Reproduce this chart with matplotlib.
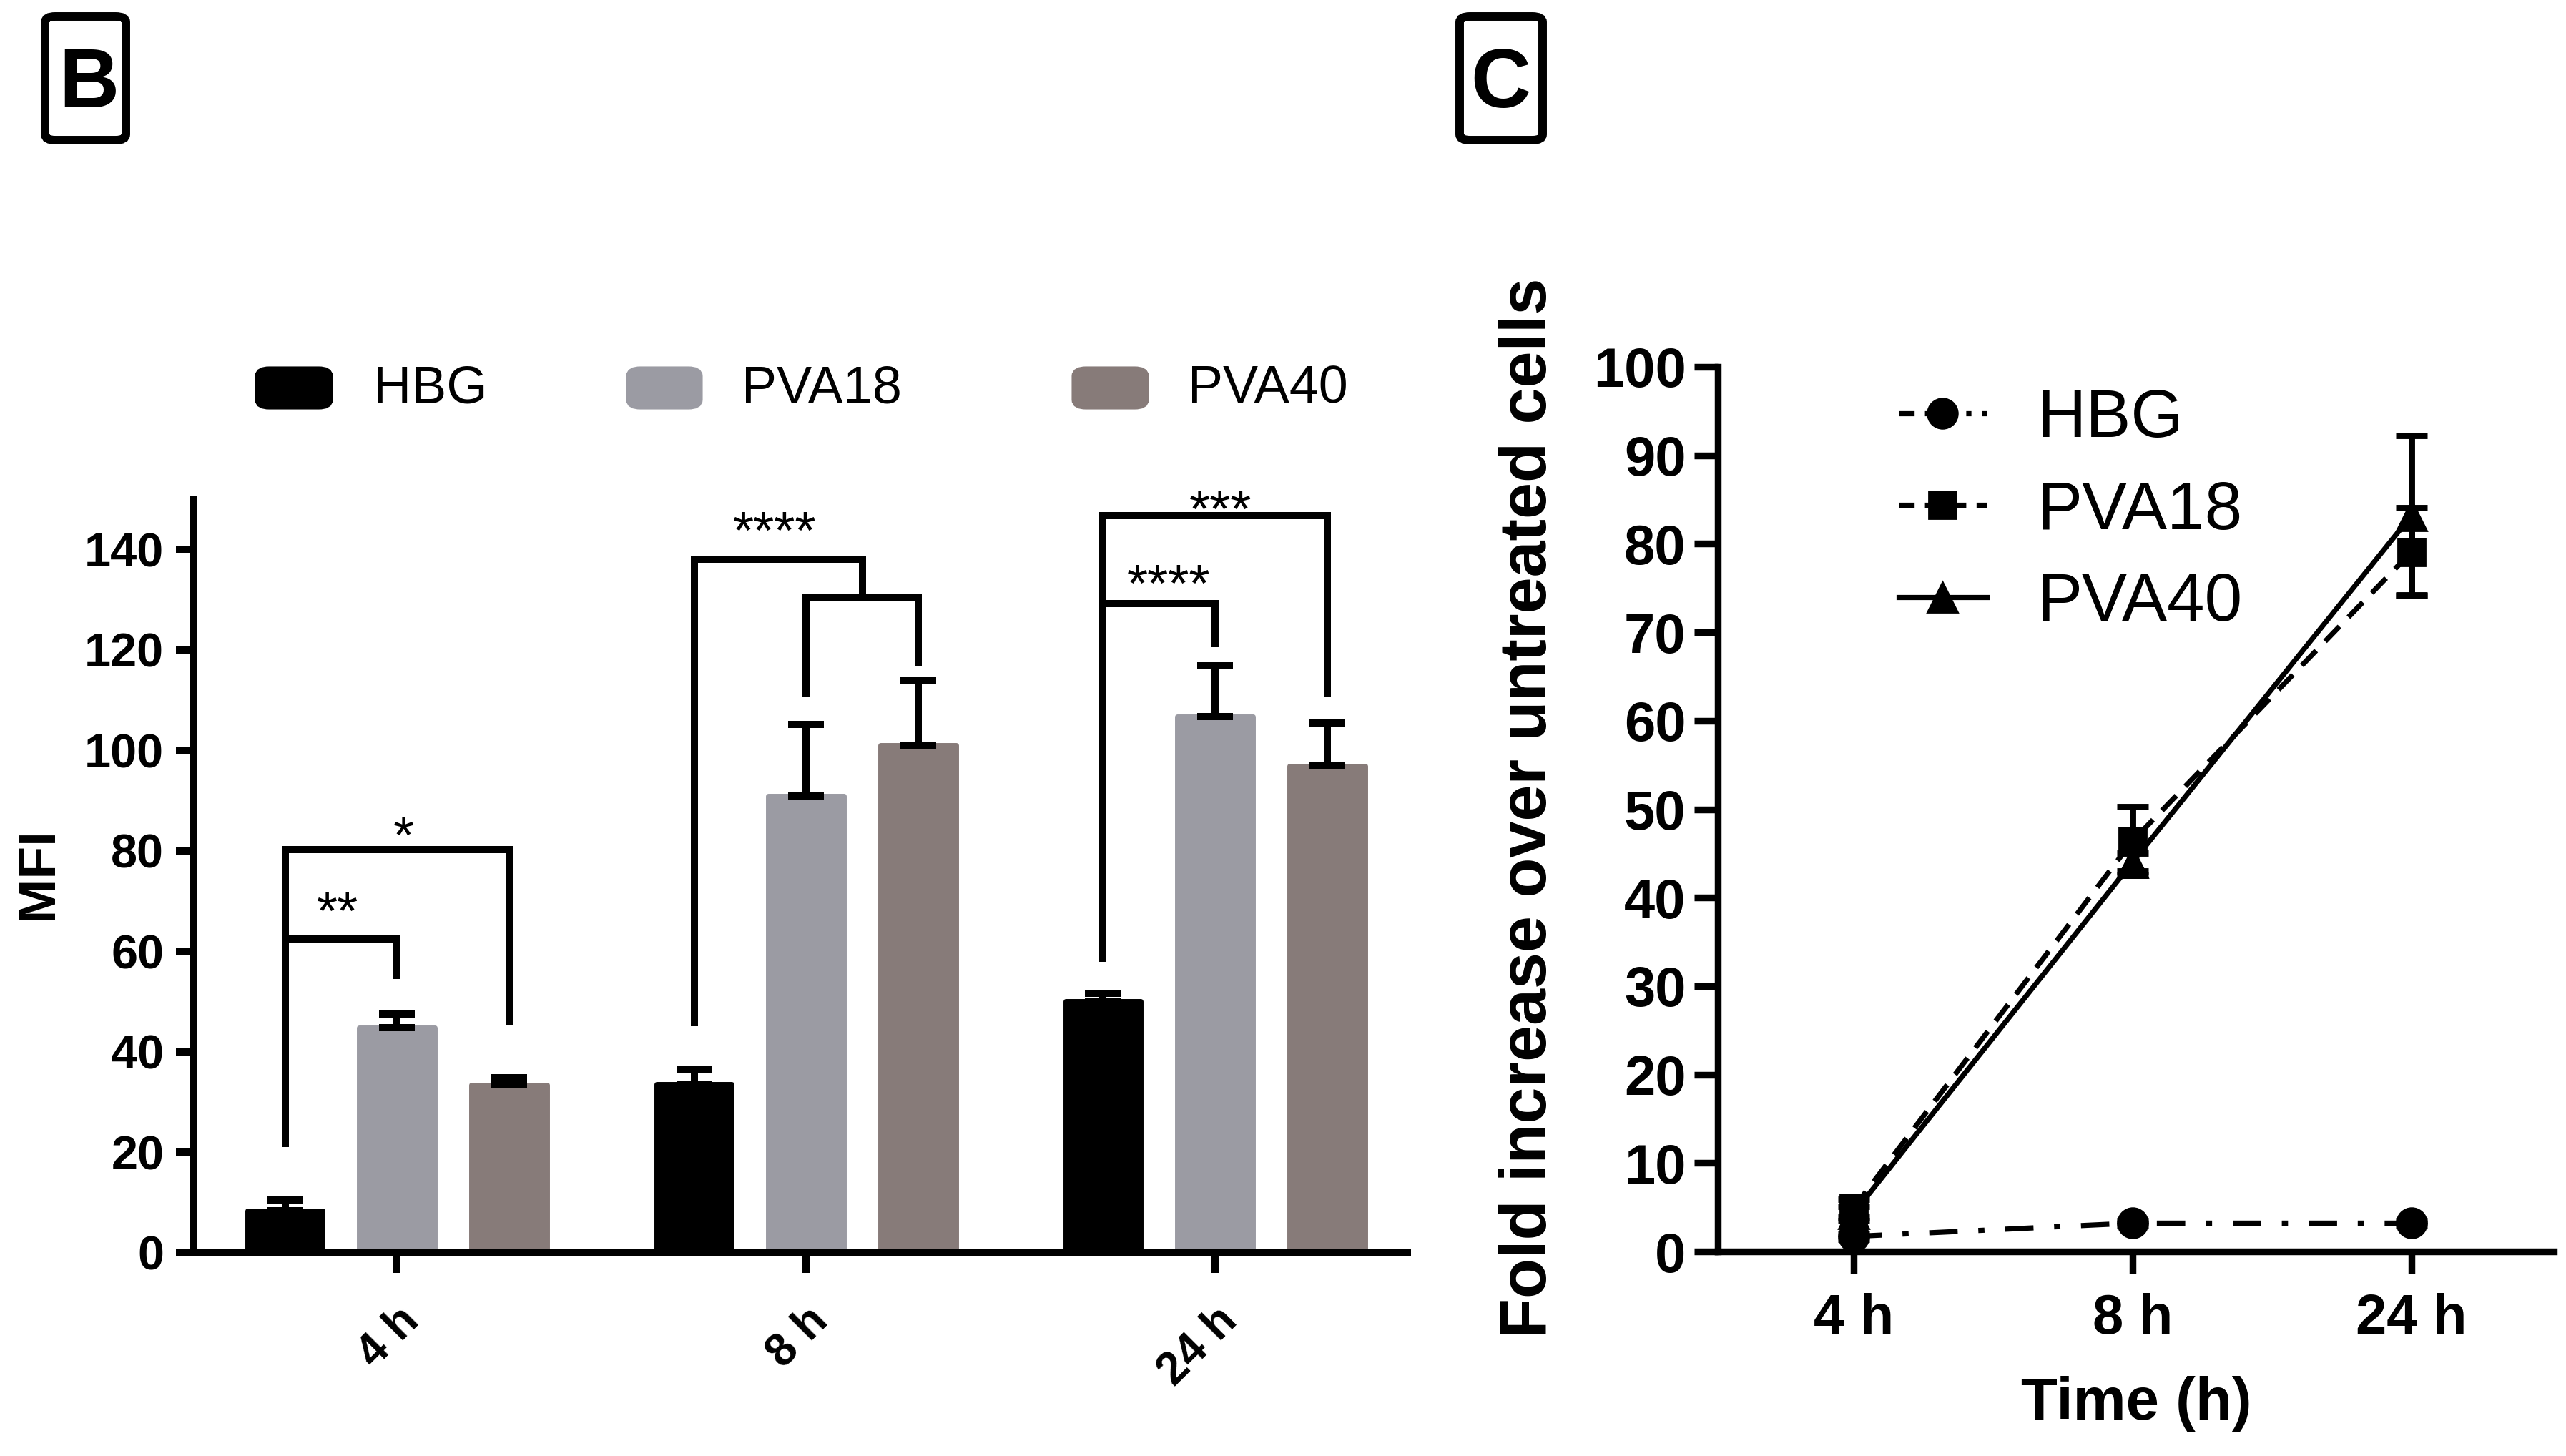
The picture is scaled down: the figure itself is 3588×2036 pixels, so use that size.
import numpy as np
import matplotlib
matplotlib.use('Agg')
import matplotlib.pyplot as plt
from matplotlib.patches import FancyBboxPatch
from matplotlib.lines import Line2D

plt.rcParams['font.family'] = ['Liberation Sans', 'DejaVu Sans']

# ---- panel B data (MFI, bars with upper SD) ----
groups = ['4 h', '8 h', '24 h']
series = ['HBG', 'PVA18', 'PVA40']
colors = ['#000000', '#9b9ba3', '#877b79']
mfi_hbg = [8.4, 33.6, 50.1]
mfi_pva18 = [44.9, 91.0, 106.7]
mfi_pva40 = [33.4, 101.0, 96.9]
err_hbg = [2.2, 2.9, 1.6]
err_pva18 = [2.7, 14.2, 10.2]
err_pva40 = [1.5, 12.8, 8.5]

# significance brackets: (x points, y points) and stars (x, y, text)
brackets = [
    ([-0.274, -0.274, 0.0, 0.0], [21, 62.5, 62.5, 54.5]),
    ([-0.274, -0.274, 0.274, 0.274], [62.5, 80.3, 80.3, 45.4]),
    ([0.726, 0.726, 1.137, 1.137], [45.1, 138, 138, 130.3]),
    ([1.0, 1.0, 1.274, 1.274], [110.6, 130.3, 130.3, 116.9]),
    ([1.726, 1.726, 2.0, 2.0], [57.9, 129.2, 129.2, 120.6]),
    ([1.726, 1.726, 2.274, 2.274], [129.2, 146.7, 146.7, 110.6]),
]
stars = [(-0.145, 71, '**'), (0.016, 86, '*'), (0.923, 146.7, '****'),
         (1.886, 136.2, '****'), (2.012, 151, '***')]

# ---- panel C data (fold increase) ----
time_labels = ['4 h', '8 h', '24 h']
fold_hbg = [1.7, 3.2, 3.2]
fold_pva18 = [4.9, 46.4, 79.1]
fold_pva40 = [4.3, 44.0, 83.2]
sd_hbg = [0.3, 0.3, 0.3]
sd_pva18 = [1.0, 3.9, 5.0]
sd_pva40 = [0.8, 1.0, 9.0]

W, H = 3588, 2036
fig = plt.figure(figsize=(W / 200, H / 200), dpi=200)


def fx(px):
    return px / W


def fy(py):
    return 1 - py / H


AXLW = 3.6

# ================= panel B =================
axb = fig.add_axes([fx(271), fy(1752), fx(1968) - fx(271), fy(698) - fy(1752)])
x = np.arange(len(groups))
off = 0.274
bw = 0.185
vals = [mfi_hbg, mfi_pva18, mfi_pva40]
errs = [err_hbg, err_pva18, err_pva40]
for i in range(3):
    xi = x + (i - 1) * off
    axb.bar(xi, vals[i], bw, color=colors[i], edgecolor=colors[i],
            linewidth=2.5, joinstyle='round', zorder=2)
    axb.errorbar(xi, vals[i], yerr=[np.zeros(3), errs[i]], fmt='none',
                 ecolor='black', elinewidth=AXLW, capsize=9, capthick=AXLW,
                 zorder=3)

for bx, by in brackets:
    axb.plot(bx, by, color='black', lw=AXLW, solid_joinstyle='miter',
             solid_capstyle='butt', clip_on=False, zorder=4)
for sx, sy, st in stars:
    axb.text(sx, sy - 6.5, st, ha='center', va='baseline', fontsize=27,
             clip_on=False)

axb.set_xlim(-0.497, 2.47)
axb.set_ylim(0, 150)
axb.set_yticks(np.arange(0, 141, 20))
axb.set_xticks(x)
axb.set_xticklabels(groups, rotation=45, ha='right', rotation_mode='anchor',
                    fontweight='bold', fontsize=23)
for lab in axb.get_yticklabels():
    lab.set_fontweight('bold')
    lab.set_fontsize(24)
axb.tick_params(axis='y', length=9, width=AXLW, pad=6)
axb.tick_params(axis='x', length=10, width=AXLW, pad=13)
for s in ['top', 'right']:
    axb.spines[s].set_visible(False)
for s in ['left', 'bottom']:
    axb.spines[s].set_linewidth(AXLW)
    axb.spines[s].set_zorder(5)
fig.text(fx(54), fy(1222), 'MFI', rotation=90, ha='center', va='center',
         fontsize=27, fontweight='bold')

# legend of panel B drawn as patches + texts
leg_boxes = [(354, 468), (873, 985), (1496, 1609)]
leg_text_x = [522, 1037, 1661]
for i in range(3):
    x0, x1 = leg_boxes[i]
    p = FancyBboxPatch((fx(x0 + 8), fy(575 - 8)), fx(x1 - x0 - 16),
                       fy(510 + 8) - fy(575 - 8),
                       boxstyle='round,pad=0,rounding_size=0.004',
                       transform=fig.transFigure, facecolor=colors[i],
                       edgecolor=colors[i], linewidth=4)
    fig.patches.append(p)
    fig.text(fx(leg_text_x[i]), fy(564), series[i], fontsize=26.5,
             ha='left', va='baseline')

# ================= panel C =================
axc = fig.add_axes([fx(2402), fy(1750), fx(3571) - fx(2402), fy(513) - fy(1750)])
t = np.arange(len(time_labels))
CLW = 2.6
axc.errorbar(t, fold_hbg, yerr=sd_hbg, color='black', lw=CLW,
             dashes=(5.5, 4, 1.2, 4), marker='o', markersize=15,
             capsize=8, capthick=3.2, elinewidth=3.2, label='HBG', zorder=3)
axc.errorbar(t, fold_pva18, yerr=sd_pva18, color='black', lw=CLW,
             dashes=(4, 2.5), marker='s', markersize=14,
             capsize=8, capthick=3.2, elinewidth=3.2, label='PVA18', zorder=3)
axc.errorbar(t, fold_pva40, yerr=sd_pva40, color='black', lw=CLW,
             linestyle='-', marker='^', markersize=15,
             capsize=8, capthick=3.2, elinewidth=3.2, label='PVA40', zorder=3)
axc.set_xlim(-0.486, 2.51)
axc.set_ylim(0, 100)
axc.set_yticks(np.arange(0, 101, 10))
axc.set_xticks(t)
axc.set_xticklabels(time_labels, fontweight='bold', fontsize=28)
for lab in axc.get_yticklabels():
    lab.set_fontweight('bold')
    lab.set_fontsize(28)
axc.tick_params(axis='y', length=12, width=3.4, pad=4)
axc.tick_params(axis='x', length=11, width=3.4, pad=10)
for s in ['top', 'right']:
    axc.spines[s].set_visible(False)
for s in ['left', 'bottom']:
    axc.spines[s].set_linewidth(3.4)
fig.text(fx(2138), fy(1130), 'Fold increase over untreated cells', rotation=90,
         ha='center', va='center', fontsize=33, fontweight='bold')
fig.text(fx(2987), fy(1963), 'Time (h)', ha='center', va='center',
         fontsize=30, fontweight='bold')

h_lines = [Line2D([], [], color='black', lw=CLW, dashes=(3, 2, 1, 2), marker='o', markersize=15),
           Line2D([], [], color='black', lw=CLW, dashes=(3, 2), marker='s', markersize=14),
           Line2D([], [], color='black', lw=CLW, marker='^', markersize=15)]
axc.legend(h_lines, series, loc='center left', bbox_to_anchor=(fx(2655), fy(715)),
           bbox_transform=fig.transFigure, frameon=False, fontsize=34,
           handlelength=1.3, handletextpad=0.75, labelspacing=0.42,
           borderpad=0, borderaxespad=0)

# ---- boxed panel letters ----
for letter, bx0, bx1, tx in [('B', 63, 176, 124), ('C', 2041, 2157, 2098)]:
    box = FancyBboxPatch((fx(bx0), fy(196)), fx(bx1 - bx0), fy(23) - fy(196),
                         boxstyle='round,pad=0,rounding_size=0.004',
                         transform=fig.transFigure, facecolor='none',
                         edgecolor='black', linewidth=4.3)
    fig.patches.append(box)
    fig.text(fx(tx), fy(150), letter, ha='center', va='baseline',
             fontsize=42, fontweight='bold')

fig.savefig('out.png', dpi=200)
